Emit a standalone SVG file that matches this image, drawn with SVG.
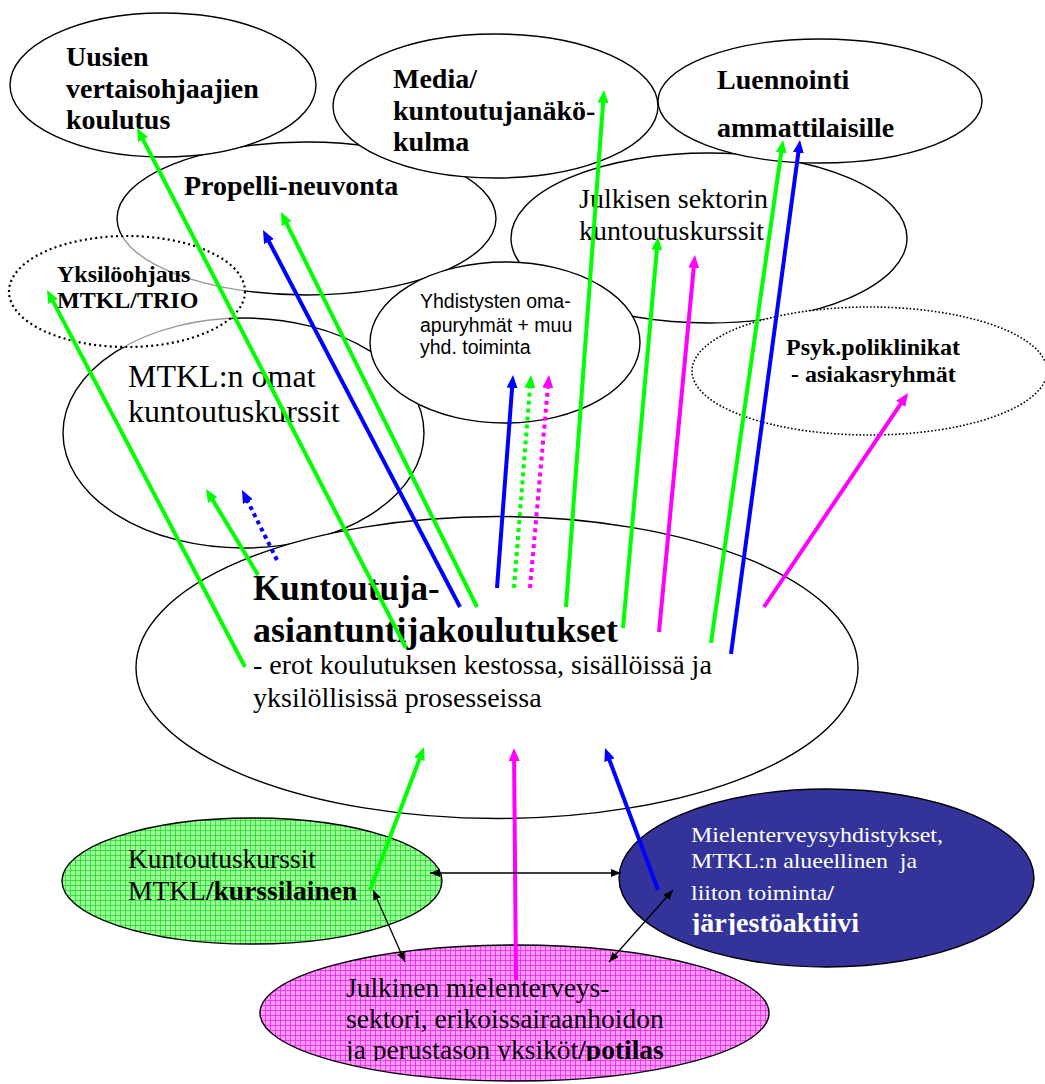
<svg xmlns="http://www.w3.org/2000/svg" width="1045" height="1084" viewBox="0 0 1045 1084">
<style>
.e{fill:#fff;stroke:#000;stroke-width:1.4}
.tb{font-family:"Liberation Serif","Times New Roman",serif;font-weight:bold;fill:#000}
.tr{font-family:"Liberation Serif","Times New Roman",serif;fill:#000}
.ts{font-family:"Liberation Sans",Arial,sans-serif;fill:#000}
.g{stroke:#00ff00;stroke-width:4;fill:none}
.b{stroke:#0000ff;stroke-width:4;fill:none}
.m{stroke:#ff00ff;stroke-width:4;fill:none}
.k{stroke:#000;stroke-width:1.3;fill:none}
.dot{stroke-dasharray:4 4}
</style>
<defs>
<marker id="aG" viewBox="0 0 13 11" refX="3" refY="5.5" markerWidth="13" markerHeight="11" markerUnits="userSpaceOnUse" orient="auto"><path d="M0,0L13,5.5L0,11z" fill="#00ff00"/></marker>
<marker id="aB" viewBox="0 0 13 11" refX="3" refY="5.5" markerWidth="13" markerHeight="11" markerUnits="userSpaceOnUse" orient="auto"><path d="M0,0L13,5.5L0,11z" fill="#0000ff"/></marker>
<marker id="aM" viewBox="0 0 13 11" refX="3" refY="5.5" markerWidth="13" markerHeight="11" markerUnits="userSpaceOnUse" orient="auto"><path d="M0,0L13,5.5L0,11z" fill="#ff00ff"/></marker>
<marker id="aK" viewBox="0 0 10 8" refX="10" refY="4" markerWidth="10" markerHeight="8" markerUnits="userSpaceOnUse" orient="auto-start-reverse"><path d="M0,0L10,4L0,8z" fill="#000"/></marker>
<pattern id="gridG" width="5" height="5" patternUnits="userSpaceOnUse"><rect width="5" height="5" fill="#9cff9c"/><path d="M0 0.5H5M0.5 0V5" stroke="#22dd22" stroke-width="0.8"/></pattern>
<pattern id="gridP" width="5" height="5" patternUnits="userSpaceOnUse"><rect width="5" height="5" fill="#ff9cff"/><path d="M0 0.5H5M0.5 0V5" stroke="#ee22ee" stroke-width="0.8"/></pattern>
<clipPath id="clipBlue"><rect x="600" y="780" width="445" height="155"/></clipPath>
<clipPath id="clipPink"><rect x="250" y="940" width="540" height="121"/></clipPath>
</defs>

<g id="propelli">
<ellipse class="e" cx="306.5" cy="218.5" rx="189.5" ry="76.5"/>
<text class="tb" x="184" y="195" font-size="28">Propelli-neuvonta</text>
</g>
<g id="julkisen">
<ellipse class="e" cx="709" cy="238" rx="198" ry="85"/>
<text class="tr" font-size="28"><tspan x="579" y="208">Julkisen sektorin</tspan><tspan x="579" y="240">kuntoutuskurssit</tspan></text>
</g>
<g id="uusien">
<ellipse class="e" cx="163" cy="85" rx="153" ry="72"/>
<text class="tb" font-size="28"><tspan x="66" y="66">Uusien</tspan><tspan x="66" y="98">vertaisohjaajien</tspan><tspan x="66" y="129">koulutus</tspan></text>
</g>
<g id="media">
<ellipse class="e" cx="495.5" cy="106" rx="162.5" ry="72"/>
<text class="tb" font-size="28"><tspan x="393" y="88">Media/</tspan><tspan x="393" y="120">kuntoutujanäkö-</tspan><tspan x="393" y="151">kulma</tspan></text>
</g>
<g id="luennointi">
<ellipse class="e" cx="820" cy="101" rx="162" ry="62"/>
<text class="tb" font-size="28"><tspan x="717" y="89">Luennointi</tspan><tspan x="717" y="137">ammattilaisille</tspan></text>
</g>
<g id="mtkl-omat">
<ellipse class="e" cx="243.5" cy="433" rx="180.5" ry="115"/>
<text class="tr" font-size="32"><tspan x="128" y="387">MTKL:n omat</tspan><tspan x="128" y="422">kuntoutuskurssit</tspan></text>
</g>
<g id="yksilo">
<ellipse cx="127" cy="291.5" rx="118" ry="55.5" fill="#fff" fill-opacity="0.6" stroke="#000" stroke-width="2.2" stroke-dasharray="2 3.2"/>
<text class="tb" font-size="24"><tspan x="57" y="282">Yksilöohjaus</tspan><tspan x="57" y="308">MTKL/TRIO</tspan></text>
</g>
<g id="yhdistysten">
<ellipse class="e" cx="505" cy="342.5" rx="135" ry="80.5"/>
<text class="ts" font-size="19.5"><tspan x="420" y="308">Yhdistysten oma-</tspan><tspan x="420" y="332">apuryhmät + muu</tspan><tspan x="420" y="354">yhd. toiminta</tspan></text>
</g>
<g id="psyk">
<ellipse cx="869.5" cy="371" rx="177.5" ry="64" fill="#fff" stroke="#000" stroke-width="1.6" stroke-dasharray="1.6 2"/>
<text class="tb" font-size="24"><tspan x="786" y="355">Psyk.poliklinikat</tspan><tspan x="791" y="382">- asiakasryhmät</tspan></text>
</g>
<g id="kuntoutuja">
<ellipse class="e" cx="497" cy="667.5" rx="361" ry="151"/>
<text class="tb" font-size="35"><tspan x="253" y="600">Kuntoutuja-</tspan><tspan x="253" y="642" textLength="365" lengthAdjust="spacingAndGlyphs">asiantuntijakoulutukset</tspan></text>
<text class="tr" font-size="28"><tspan x="253" y="674">- erot koulutuksen kestossa, sisällöissä ja</tspan><tspan x="253" y="707">yksilöllisissä prosesseissa</tspan></text>
</g>
<g id="kuntoutuskurssit">
<ellipse cx="252" cy="881" rx="190" ry="63" fill="url(#gridG)" stroke="#000" stroke-width="1.4"/>
<text class="tr" font-size="27.5"><tspan x="128" y="868">Kuntoutuskurssit</tspan><tspan x="128" y="900">MTKL<tspan font-weight="bold">/kurssilainen</tspan></tspan></text>
</g>
<g id="mielenterveysyhdistykset">
<ellipse cx="826.5" cy="878" rx="207.5" ry="89" fill="#333399" stroke="#000" stroke-width="1.4"/>
<g clip-path="url(#clipBlue)">
<text class="tr" font-size="21" style="fill:#fff;white-space:pre" xml:space="preserve"><tspan x="691" y="842" textLength="252" lengthAdjust="spacingAndGlyphs">Mielenterveysyhdistykset,</tspan><tspan x="691" y="868" textLength="226" lengthAdjust="spacingAndGlyphs">MTKL:n alueellinen  ja</tspan><tspan x="691" y="900" textLength="143" lengthAdjust="spacingAndGlyphs">liiton toiminta<tspan font-weight="bold">/</tspan></tspan></text>
<text class="tb" x="691" y="932" font-size="28" style="fill:#fff">järjestöaktiivi</text>
</g>
</g>
<g id="julkinen">
<ellipse cx="514.5" cy="1013" rx="254.5" ry="68" fill="url(#gridP)" stroke="#000" stroke-width="1.4"/>
<g clip-path="url(#clipPink)">
<text class="tr" font-size="27.5"><tspan x="346" y="997">Julkinen mielenterveys-</tspan><tspan x="346" y="1028">sektori, erikoissairaanhoidon</tspan><tspan x="346" y="1059">ja perustason yksiköt<tspan font-weight="bold">/potilas</tspan></tspan></text>
</g>
</g>

<g id="connectors">
<line class="g" x1="245" y1="667" x2="51.7" y2="298.9" marker-end="url(#aG)"/>
<line class="g" x1="406" y1="648" x2="141.6" y2="136.9" marker-end="url(#aG)"/>
<line class="b" x1="460" y1="607" x2="267.6" y2="238.9" marker-end="url(#aB)"/>
<line class="g" x1="477" y1="607" x2="285.4" y2="221" marker-end="url(#aG)"/>
<line class="g" x1="258" y1="575" x2="211.2" y2="497.6" marker-end="url(#aG)"/>
<line class="b dot" x1="277" y1="560" x2="246.5" y2="498.9" marker-end="url(#aB)"/>
<line class="b" x1="497" y1="588" x2="512.3" y2="385" marker-end="url(#aB)"/>
<line class="g dot" x1="514" y1="588" x2="530.2" y2="385" marker-end="url(#aG)"/>
<line class="m dot" x1="530" y1="588" x2="548.1" y2="385" marker-end="url(#aM)"/>
<line class="g" x1="566" y1="607" x2="603.3" y2="100" marker-end="url(#aG)"/>
<line class="g" x1="623" y1="628" x2="657.1" y2="247" marker-end="url(#aG)"/>
<line class="m" x1="659" y1="632" x2="694" y2="265" marker-end="url(#aM)"/>
<line class="g" x1="711" y1="643" x2="781.6" y2="149.9" marker-end="url(#aG)"/>
<line class="b" x1="731" y1="654" x2="798.7" y2="149.9" marker-end="url(#aB)"/>
<line class="m" x1="764" y1="607" x2="902.4" y2="401.3" marker-end="url(#aM)"/>
<line class="g" x1="370" y1="890" x2="420.5" y2="756.4" marker-end="url(#aG)"/>
<line class="m" x1="516" y1="980" x2="514.1" y2="758" marker-end="url(#aM)"/>
<line class="b" x1="658" y1="890" x2="608.5" y2="757.4" marker-end="url(#aB)"/>
<line class="k" x1="430" y1="873" x2="621" y2="873" marker-start="url(#aK)" marker-end="url(#aK)"/>
<line class="k" x1="373" y1="890" x2="405" y2="962" marker-start="url(#aK)" marker-end="url(#aK)"/>
<line class="k" x1="673" y1="890" x2="609" y2="962" marker-start="url(#aK)" marker-end="url(#aK)"/>
</g>
</svg>
